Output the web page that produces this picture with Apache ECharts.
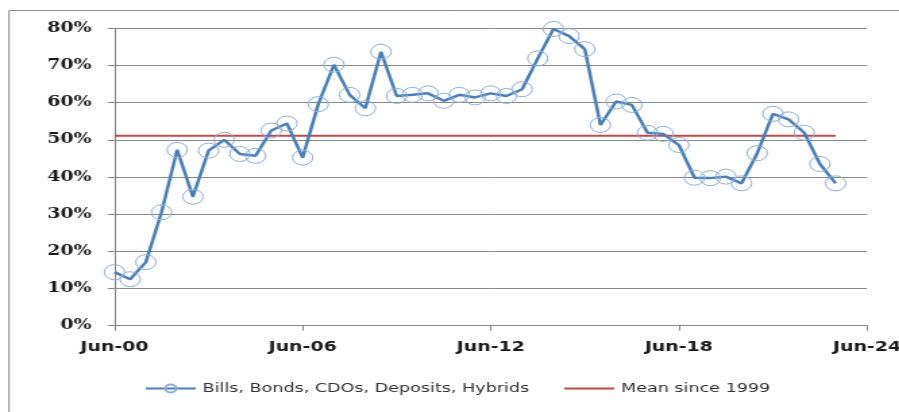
<!DOCTYPE html>
<html>
<head>
<meta charset="utf-8">
<script src="https://cdn.jsdelivr.net/npm/echarts@6/dist/echarts.min.js"></script>
<style>
  html, body { margin: 0; padding: 0; background: #ffffff; overflow: hidden; }
  /* the chart is laid out narrow and widened horizontally, like a stretched spreadsheet chart */
  #chart { width: 666px; height: 412px; transform: scaleX(1.35); transform-origin: 0 0; }
</style>
</head>
<body>
<div id="chart"></div>
<script>
// Half-yearly observations, Jun-00 to Jun-24
const categories = [
  'Jun-00','Dec-00','Jun-01','Dec-01','Jun-02','Dec-02','Jun-03','Dec-03',
  'Jun-04','Dec-04','Jun-05','Dec-05','Jun-06','Dec-06','Jun-07','Dec-07',
  'Jun-08','Dec-08','Jun-09','Dec-09','Jun-10','Dec-10','Jun-11','Dec-11',
  'Jun-12','Dec-12','Jun-13','Dec-13','Jun-14','Dec-14','Jun-15','Dec-15',
  'Jun-16','Dec-16','Jun-17','Dec-17','Jun-18','Dec-18','Jun-19','Dec-19',
  'Jun-20','Dec-20','Jun-21','Dec-21','Jun-22','Dec-22','Jun-23','Dec-23',
  'Jun-24'
];

// Share of bills, bonds, CDOs, deposits and hybrids (%)
const fixedIncomeShare = [
  14.4, 12.5, 17.1, 30.5, 47.3, 34.7, 47.1, 50.0, 46.2, 45.7,
  52.5, 54.4, 45.2, 59.6, 70.2, 62.1, 58.5, 73.7, 61.8, 62.1,
  62.5, 60.5, 62.1, 61.4, 62.5, 61.8, 63.6, 71.9, 79.8, 77.9,
  74.4, 54.0, 60.3, 59.4, 51.9, 51.6, 48.6, 39.8, 39.7, 40.1,
  38.3, 46.4, 57.0, 55.5, 51.9, 43.5, 38.3
];

const meanSince1999 = 51.1;
const meanLine = fixedIncomeShare.map(() => meanSince1999);

const yTicks = { min: 0, max: 80, step: 10 };

const chart = echarts.init(document.getElementById('chart'));
chart.setOption({
  animation: false,
  backgroundColor: '#ffffff',
  graphic: [{
    type: 'rect',
    shape: { x: 6.67, y: 10.5, width: 800, height: 600 },
    style: { fill: 'none', stroke: '#8c8c8c', lineWidth: 1 },
    silent: true
  }],
  grid: {
    left: 84.8, right: 23.8, top: 28.3, bottom: 86.3,
    containLabel: false,
    outerBoundsMode: 'none'
  },
  legend: {
    left: 102,
    top: 377,
    itemWidth: 37,
    itemHeight: 10,
    itemGap: 25,
    textStyle: { fontFamily: 'DejaVu Sans', fontSize: 13, color: '#333333' },
    data: [
      { name: 'Bills, Bonds, CDOs, Deposits, Hybrids' },
      { name: 'Mean since 1999', itemStyle: { opacity: 0 } }
    ]
  },
  xAxis: {
    type: 'category',
    data: categories,
    boundaryGap: false,
    axisLine: { lineStyle: { color: '#868686', width: 1 } },
    axisTick: { show: true, interval: 11, length: 5, lineStyle: { color: '#868686' } },
    axisLabel: {
      interval: 11,
      margin: 15,
      fontFamily: 'DejaVu Sans',
      fontWeight: 'bold',
      fontSize: 14,
      color: '#1a1a1a'
    },
    splitLine: { show: false }
  },
  yAxis: {
    type: 'value',
    min: yTicks.min,
    max: yTicks.max,
    interval: yTicks.step,
    axisLine: { show: true, lineStyle: { color: '#868686', width: 1 } },
    axisTick: { show: true, length: 5, lineStyle: { color: '#868686' } },
    axisLabel: {
      formatter: '{value}%',
      margin: 17,
      fontFamily: 'DejaVu Serif',
      fontWeight: 'bold',
      fontSize: 14,
      color: '#1a1a1a'
    },
    splitLine: { lineStyle: { color: '#8a8a8a', width: 1 } }
  },
  series: [
    {
      name: 'Bills, Bonds, CDOs, Deposits, Hybrids',
      type: 'line',
      data: fixedIncomeShare,
      symbol: 'circle',
      symbolSize: 15,
      showAllSymbol: true,
      lineStyle: { color: '#4a7ebb', width: 2.5 },
      itemStyle: { color: 'rgba(255,255,255,0)', borderColor: '#8fb0dc', borderWidth: 1 },
      z: 3
    },
    {
      name: 'Mean since 1999',
      type: 'line',
      data: meanLine,
      symbol: 'none',
      lineStyle: { color: '#be4b48', width: 2 },
      itemStyle: { color: '#be4b48' },
      z: 2
    }
  ]
});
</script>
</body>
</html>
